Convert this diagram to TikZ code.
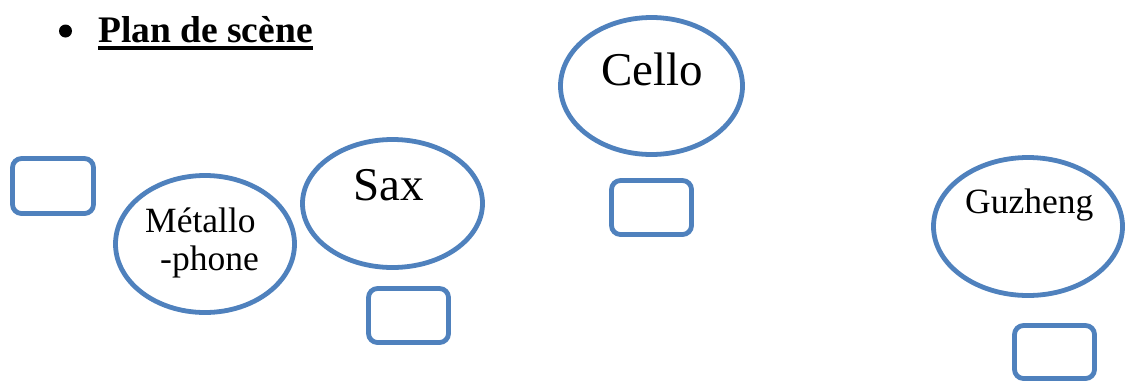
\documentclass[tikz,border=0pt]{standalone}
\usepackage{fontspec}
\setmainfont{Liberation Serif}
\usetikzlibrary{shapes.geometric}
\definecolor{shapeblue}{HTML}{4F81BD}
\begin{document}
\begin{tikzpicture}[x=1pt,y=-1pt,
  inst/.style={draw=shapeblue,line width=4.8pt,ellipse,inner sep=0pt},
  spot/.style={draw=shapeblue,line width=4.8pt,rounded corners=9pt,minimum width=80pt,minimum height=54pt,inner sep=0pt},
  biglbl/.style={anchor=base west,inner sep=0pt,font=\fontsize{47}{47}\selectfont},
  smalllbl/.style={anchor=base west,inner sep=0pt,font=\fontsize{35.5}{35.5}\selectfont}]
\useasboundingbox (0,0) rectangle (1126,381);
\clip (0,0) rectangle (1126,381);
% title
\node[circle,fill=black,inner sep=0pt,minimum size=13pt] (bullet) at (65.5,31) {};
\node[anchor=base west,inner sep=0pt,font=\bfseries\fontsize{37.5}{37.5}\selectfont] (title) at (98,42) {Plan de scène};
\draw[line width=4pt] ([yshift=-6pt]title.base west) -- ([yshift=-6pt]title.base east);
% ellipses
\node[inst,minimum width=182pt,minimum height=137pt] (cello) at (651.5,86) {};
\node[inst,minimum width=180pt,minimum height=128pt] (sax) at (392.5,203.5) {};
\node[inst,minimum width=179pt,minimum height=137pt] (metallo) at (205,244) {};
\node[inst,minimum width=189pt,minimum height=138pt] (guzheng) at (1028,226.5) {};
% labels
\node[biglbl] (tcello) at (601,85) {Cello};
\node[biglbl] (tsax) at (353,200) {Sax};
\node[smalllbl] (tmet1) at (145,232) {Métallo};
\node[smalllbl] (tmet2) at (160,270) {-phone};
\node[smalllbl] (tguz) at (965,213) {Guzheng};
% boxes
\node[spot,minimum width=81pt,minimum height=55pt] (box1) at (53,186) {};
\node[spot] (box2) at (408.5,315.5) {};
\node[spot] (box3) at (651.5,207.5) {};
\node[spot,minimum height=53pt] (box4) at (1054.5,352) {};
\end{tikzpicture}
\end{document}
